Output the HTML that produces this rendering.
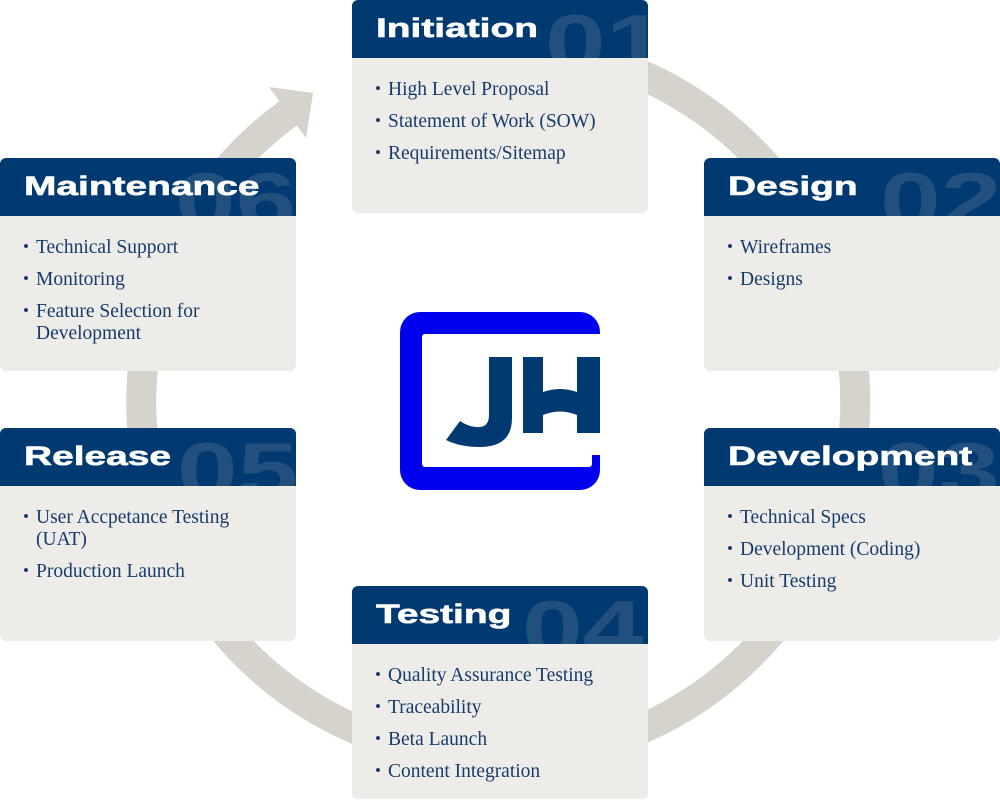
<!DOCTYPE html>
<html><head><meta charset="utf-8"><style>
body{margin:0;width:1000px;height:800px;background:#fff;position:relative;overflow:hidden;font-family:"Liberation Sans",sans-serif}
.box{position:absolute;width:296px;height:213px;background:#eeece9;border-radius:6px;overflow:hidden}
.hd{position:absolute;left:0;top:0;width:100%;height:58px;background:#003a70;overflow:hidden}
.t{position:absolute;left:24px;top:12px;font-weight:bold;font-size:27px;color:#fff;transform:scaleX(1.44);transform-origin:0 0;white-space:nowrap;z-index:2;line-height:32px;-webkit-text-stroke:0.6px #fff}
.n{position:absolute;top:2px;font-weight:bold;font-size:78px;line-height:80px;color:#21507f;transform:scaleX(1.4);transform-origin:0 0;white-space:nowrap}
ul{position:absolute;left:24px;top:79px;margin:0;padding:0;list-style:none;font-family:"Liberation Serif",serif;font-size:19.5px;color:#163c6c;width:262px}
li{position:relative;padding-left:12px;line-height:22px;margin-bottom:10px}
li:before{content:"•";position:absolute;left:-1px;top:-1px;font-size:17px}
</style></head><body>
<svg width="1000" height="800" style="position:absolute;left:0;top:0">
<path d="M362 72 A357 357 0 1 1 290 112" fill="none" stroke="#d6d2cc" stroke-width="30"/>
<polygon points="269,87 313,93 306,138" fill="#d6d2cc"/>
<rect x="400" y="312" width="200" height="178" rx="20" fill="#0000ee"/>
<rect x="422" y="334" width="170" height="133" rx="3" fill="#fff"/>
<rect x="578" y="334" width="24" height="121" fill="#fff"/>
<path d="M489 357 H512 V418 Q512 447 480 447 Q460 447 446 440 L460 421 Q470 428 480 427 Q489 426 489 415 Z" fill="#003a70"/>
<path d="M523 357 H543 V392 Q560 386 577 392 V357 H600 V433 H577 V415 Q560 408 543 415 V433 H523 Z" fill="#003a70"/>
</svg>

<div class="box" style="left:352px;top:0"><div class="hd"><div class="n" style="left:193px">01</div><div class="t">Initiation</div></div>
<ul><li>High Level Proposal</li><li>Statement of Work (SOW)</li><li>Requirements/Sitemap</li></ul></div>

<div class="box" style="left:704px;top:158px"><div class="hd"><div class="n" style="left:176px">02</div><div class="t">Design</div></div>
<ul><li>Wireframes</li><li>Designs</li></ul></div>

<div class="box" style="left:704px;top:428px"><div class="hd"><div class="n" style="left:174px">03</div><div class="t">Development</div></div>
<ul><li>Technical Specs</li><li>Development (Coding)</li><li>Unit Testing</li></ul></div>

<div class="box" style="left:352px;top:586px"><div class="hd"><div class="n" style="left:170px">04</div><div class="t">Testing</div></div>
<ul><li>Quality Assurance Testing</li><li>Traceability</li><li>Beta Launch</li><li>Content Integration</li></ul></div>

<div class="box" style="left:0;top:428px"><div class="hd"><div class="n" style="left:177px">05</div><div class="t">Release</div></div>
<ul style="width:230px"><li>User Accpetance Testing (UAT)</li><li>Production Launch</li></ul></div>

<div class="box" style="left:0;top:158px"><div class="hd"><div class="n" style="left:175px">06</div><div class="t">Maintenance</div></div>
<ul style="width:230px"><li>Technical Support</li><li>Monitoring</li><li>Feature Selection for Development</li></ul></div>
</body></html>
